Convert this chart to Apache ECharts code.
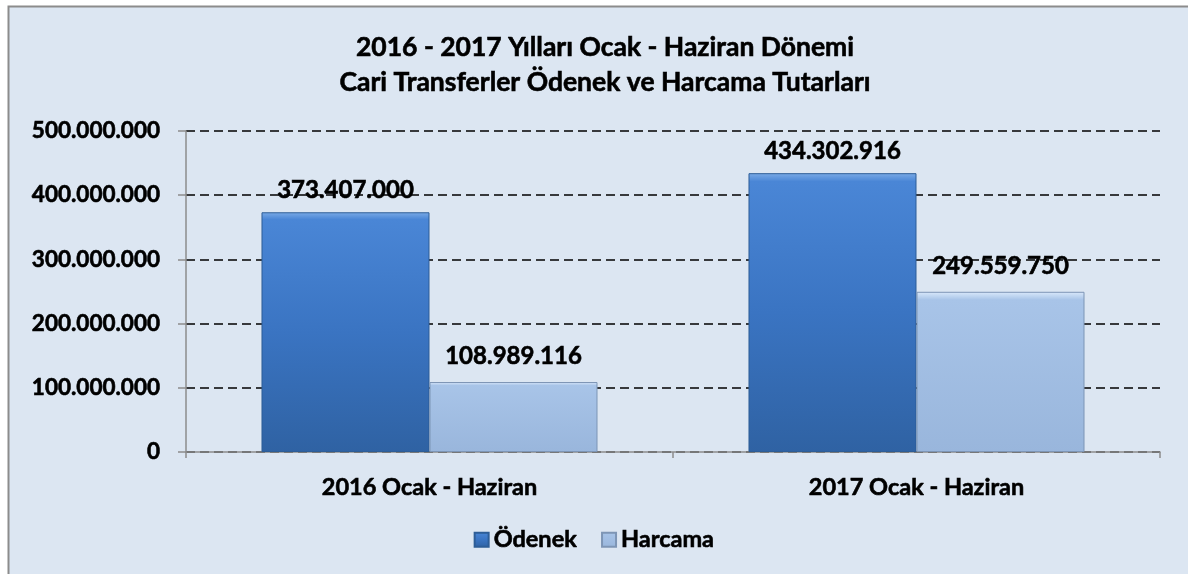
<!DOCTYPE html>
<html>
<head>
<meta charset="utf-8">
<script src="https://cdn.jsdelivr.net/npm/echarts@6/dist/echarts.min.js"></script>
<style>
  html, body { margin: 0; padding: 0; background: #fff; }
  #chart { width: 1188px; height: 574px; }
</style>
</head>
<body>
<div id="chart"></div>
<script>
var categories = ["2016 Ocak - Haziran", "2017 Ocak - Haziran"];
var odenek = [373407000, 434302916];
var harcama = [108989116, 249559750];
var seriesNames = ["Ödenek", "Harcama"];

var FONT = "Lato, 'Open Sans', sans-serif";

function fmt(v) {
  return String(v).replace(/\B(?=(\d{3})+(?!\d))/g, ".");
}

// bold text a bit heavier, like the original
function txt(size) {
  return {
    fontFamily: FONT,
    fontSize: size,
    fontWeight: "bold",
    color: "#000",
    textBorderColor: "#000",
    textBorderWidth: 0.6
  };
}

var chartObj = echarts.init(document.getElementById("chart"));
var option = {
  backgroundColor: "#ffffff",
  textStyle: { fontFamily: FONT },
  graphic: [
    {
      type: "rect",
      z: -10,
      silent: true,
      shape: { x: 8.5, y: 6.5, width: 1200, height: 600 },
      style: { fill: "#dce6f2", stroke: "#8c8c8c", lineWidth: 2 }
    }
  ],
  title: {
    text: "2016 - 2017 Yılları Ocak - Haziran Dönemi\nCari Transferler Ödenek ve Harcama Tutarları",
    left: 600,
    textAlign: "center",
    top: 25,
    textStyle: Object.assign(txt(26.5), { lineHeight: 35 })
  },
  legend: {
    data: seriesNames,
    bottom: 17,
    left: "center",
    itemWidth: 14,
    itemHeight: 14,
    itemGap: 24,
    icon: "rect",
    textStyle: Object.assign(txt(23.5), { padding: [0, 0, 0, 0] })
  },
  grid: { left: 186, right: 28, top: 131, bottom: 122, containLabel: false },
  xAxis: {
    type: "category",
    data: categories,
    axisLine: { lineStyle: { color: "#8c8c8c", width: 1.5 } },
    axisTick: { show: true, length: 6, lineStyle: { color: "#8c8c8c", width: 1.5 } },
    axisLabel: Object.assign(txt(23.5), { margin: 23 })
  },
  yAxis: {
    type: "value",
    min: 0,
    max: 500000000,
    interval: 100000000,
    axisLine: { show: true, lineStyle: { color: "#8c8c8c", width: 1.5 } },
    axisTick: { show: true, length: 8, lineStyle: { color: "#8c8c8c", width: 1.5 } },
    axisLabel: Object.assign(txt(22.5), {
      margin: 26,
      formatter: function (v) { return fmt(v); }
    }),
    splitLine: { show: true, lineStyle: { color: "#000", type: [9, 5], width: 1.5 } }
  },
  series: [
    {
      name: seriesNames[0],
      type: "bar",
      data: odenek,
      barGap: "0%",
      barCategoryGap: "31%",
      itemStyle: {
        borderColor: "#2d5d97",
        borderWidth: 1,
        color: new echarts.graphic.LinearGradient(0, 0, 0, 1, [
          { offset: 0, color: "#7aaae6" },
          { offset: 0.03, color: "#4a86d6" },
          { offset: 0.5, color: "#3a74c2" },
          { offset: 1, color: "#2f62a3" }
        ])
      },
      label: Object.assign(txt(24), {
        show: true,
        position: "top",
        distance: 10,
        formatter: function (p) { return fmt(p.value); }
      })
    },
    {
      name: seriesNames[1],
      type: "bar",
      data: harcama,
      itemStyle: {
        borderColor: "#7d95b5",
        borderWidth: 1,
        color: new echarts.graphic.LinearGradient(0, 0, 0, 1, [
          { offset: 0, color: "#dbe9fb" },
          { offset: 0.05, color: "#a8c4e8" },
          { offset: 1, color: "#99b6dc" }
        ])
      },
      label: Object.assign(txt(24), {
        show: true,
        position: "top",
        distance: 14,
        formatter: function (p) { return fmt(p.value); }
      })
    }
  ]
};
chartObj.setOption(option);
window.addEventListener("resize", function () {
  chartObj.resize();
});
</script>
</body>
</html>
